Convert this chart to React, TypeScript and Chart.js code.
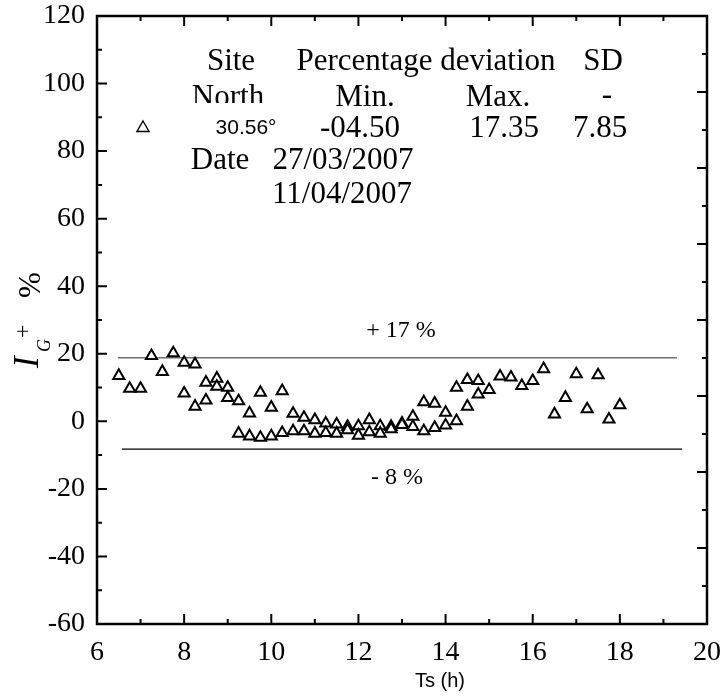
import React, { useEffect, useRef } from 'react';
import { Chart, registerables } from 'chart.js';

Chart.register(...registerables);

// Solar time (h) and percentage deviation of I_G+ (%)
const tsHours = [
  6.5, 6.75, 7.0, 7.25, 7.5, 7.75,
  8.0, 8.0, 8.25, 8.25, 8.5, 8.5, 8.75, 8.75, 9.0, 9.0,
  9.25, 9.25, 9.5, 9.5, 9.75, 9.75, 10.0, 10.0, 10.25, 10.25,
  10.5, 10.5, 10.75, 10.75, 11.0, 11.0, 11.25, 11.25, 11.5, 11.5,
  11.75, 11.75, 12.0, 12.0, 12.25, 12.25, 12.5, 12.5, 12.75, 12.75,
  13.0, 13.0, 13.25, 13.25, 13.5, 13.5, 13.75, 13.75, 14.0, 14.0,
  14.25, 14.25, 14.5, 14.5, 14.75, 14.75,
  15.0, 15.25, 15.5, 15.75, 16.0, 16.25, 16.5, 16.75, 17.0, 17.25,
  17.5, 17.75, 18.0,
];
const deviation = [
  13.5, 9.7, 9.7, 19.4, 14.7, 20.2,
  17.4, 8.3, 16.9, 4.4, 11.5, 6.2, 12.7, 10.3, 10.0, 7.0,
  6.0, -3.6, 2.4, -4.4, 8.5, -4.8, 4.1, -4.4, 9.0, -3.4,
  2.3, -2.9, 1.1, -2.9, 0.4, -3.6, -0.6, -3.4, -0.9, -3.6,
  -1.6, -2.6, -1.4, -4.2, 0.4, -3.2, -1.4, -3.6, -1.6, -2.3,
  -0.6, -1.0, 1.4, -1.6, 5.7, -2.9, 5.3, -1.9, 2.6, -1.2,
  10.0, 0.1, 12.3, 4.4, 12.0, 8.0,
  9.3, 13.3, 13.0, 10.5, 12.0, 15.5, 2.1, 7.0, 14.0, 3.6,
  13.7, 0.6, 4.8,
];

// Reference deviation lines
const upperLineX = [6.48, 19.31];
const upperLineY = [18.8, 18.8];
const lowerLineX = [6.57, 19.43];
const lowerLineY = [-8.2, -8.2];

// Axis ranges / ticks
const xMin = 6;
const xMax = 20;
const xStep = 2;
const yMin = -60;
const yMax = 120;
const yStep = 20;

// Annotation text
const headerRow = ['Site', 'Percentage deviation', 'SD'];
const subHeaderRow = ['North', 'Min.', 'Max.', '-'];
const valueRow = ['30.56°', '-04.50', '17.35', '7.85'];
const dateLabel = 'Date';
const dateFrom = '27/03/2007';
const dateTo = '11/04/2007';
const upperLabel = '+ 17 %';
const lowerLabel = '- 8 %';
const xTitle = 'Ts (h)';

const SERIF = '"Liberation Serif", "Times New Roman", Times, serif';
const SANS = '"Liberation Sans", Arial, Helvetica, sans-serif';

function triangle(ctx: CanvasRenderingContext2D, x: number, y: number, r: number) {
  ctx.beginPath();
  for (let i = 0; i < 3; i++) {
    const a = (i * 2 * Math.PI) / 3;
    const px = x + Math.sin(a) * r;
    const py = y - Math.cos(a) * r;
    if (i === 0) ctx.moveTo(px, py);
    else ctx.lineTo(px, py);
  }
  ctx.closePath();
}

const decorPlugin = {
  id: 'decor',
  afterDraw(chart: any) {
    const ctx: CanvasRenderingContext2D = chart.ctx;
    const { left, right, top, bottom } = chart.chartArea;
    const xs = chart.scales.x;
    const ys = chart.scales.y;
    ctx.save();
    ctx.strokeStyle = '#000';
    ctx.fillStyle = '#000';

    // frame
    ctx.lineWidth = 2.5;
    ctx.strokeRect(left, top, right - left, bottom - top);

    // ticks
    ctx.lineWidth = 2;
    ctx.beginPath();
    for (let v = yMin; v <= yMax; v += 10) {
      const y = ys.getPixelForValue(v);
      const len = v % 20 === 0 ? 10 : 5;
      ctx.moveTo(left, y);
      ctx.lineTo(left + len, y);
    }
    for (let h = xMin; h <= xMax; h += 1) {
      const x = xs.getPixelForValue(h);
      const len = h % 2 === 0 ? 10 : 5;
      ctx.moveTo(x, bottom);
      ctx.lineTo(x, bottom - len);
      ctx.moveTo(x, top);
      ctx.lineTo(x, top + len);
    }
    const nRight = 16;
    for (let k = 0; k <= nRight; k++) {
      const y = top + ((bottom - top) * k) / nRight;
      const len = k % 2 === 0 ? 10 : 5;
      ctx.moveTo(right, y);
      ctx.lineTo(right - len, y);
    }
    ctx.stroke();

    // annotation table
    ctx.textAlign = 'center';
    ctx.textBaseline = 'middle';
    ctx.font = `31px ${SERIF}`;
    ctx.fillText(headerRow[0], 231, 62);
    ctx.fillText(headerRow[1], 426, 62);
    ctx.fillText(headerRow[2], 603, 62);

    ctx.save();
    ctx.beginPath();
    ctx.rect(0, 0, 722, 103);
    ctx.clip();
    ctx.fillText(subHeaderRow[0], 228, 98);
    ctx.restore();
    ctx.fillText(subHeaderRow[1], 365, 98);
    ctx.fillText(subHeaderRow[2], 498, 98);
    ctx.fillText(subHeaderRow[3], 607, 96);

    ctx.font = `21px ${SANS}`;
    ctx.fillText(valueRow[0], 246, 128);
    ctx.font = `31px ${SERIF}`;
    ctx.fillText(valueRow[1], 360, 129);
    ctx.fillText(valueRow[2], 504, 129);
    ctx.fillText(valueRow[3], 600, 129);

    ctx.fillText(dateLabel, 220, 161);
    ctx.fillText(dateFrom, 343, 161);
    ctx.fillText(dateTo, 342, 195);

    // legend marker
    ctx.lineWidth = 1.4;
    triangle(ctx, 143, 128, 7);
    ctx.stroke();

    // line labels
    ctx.font = `24px ${SERIF}`;
    ctx.fillText(upperLabel, 401, 331);
    ctx.fillText(lowerLabel, 397, 478);

    // x title
    ctx.font = `20px ${SANS}`;
    ctx.fillText(xTitle, 440, 681);

    // y title: I_G^+ %
    ctx.translate(38, 368);
    ctx.rotate(-Math.PI / 2);
    ctx.textAlign = 'left';
    ctx.textBaseline = 'alphabetic';
    ctx.font = `italic 35px ${SERIF}`;
    ctx.fillText('I', 0, 0);
    ctx.font = `italic 18px ${SERIF}`;
    ctx.fillText('G', 16, 12);
    ctx.font = `24px ${SERIF}`;
    ctx.fillText('+', 30, -8);
    ctx.font = `31px ${SERIF}`;
    ctx.fillText('%', 70, 2);

    ctx.restore();
  },
};

export default function App() {
  const canvasRef = useRef<HTMLCanvasElement | null>(null);

  useEffect(() => {
    const canvas = canvasRef.current;
    if (!canvas) return;
    const chart = new Chart(canvas, {
      type: 'scatter',
      data: {
        datasets: [
          {
            label: 'North 30.56°',
            data: tsHours.map((x, i) => ({ x, y: deviation[i] })),
            pointStyle: 'triangle',
            pointRadius: 6.4,
            pointBorderWidth: 2,
            borderColor: '#000',
            backgroundColor: '#fff',
            order: 0,
          },
          {
            type: 'line',
            label: '+17 %',
            data: upperLineX.map((x, i) => ({ x, y: upperLineY[i] })),
            borderColor: '#6e6e6e',
            borderWidth: 1.5,
            pointRadius: 0,
            showLine: true,
            order: 1,
          },
          {
            type: 'line',
            label: '-8 %',
            data: lowerLineX.map((x, i) => ({ x, y: lowerLineY[i] })),
            borderColor: '#000',
            borderWidth: 1.2,
            pointRadius: 0,
            showLine: true,
            order: 1,
          },
        ],
      } as any,
      options: {
        animation: false,
        responsive: false,
        maintainAspectRatio: false,
        devicePixelRatio: 1,
        layout: { padding: { top: 16, right: 15, left: 0, bottom: 0 } },
        plugins: {
          legend: { display: false },
          tooltip: { enabled: false },
          title: { display: false },
        },
        scales: {
          x: {
            type: 'linear',
            min: xMin,
            max: xMax,
            grid: { display: false, drawTicks: false },
            border: { display: false },
            ticks: {
              stepSize: xStep,
              padding: 12,
              color: '#000',
              font: { family: SERIF, size: 28 },
              maxRotation: 0,
            },
            afterFit: (s: any) => {
              s.height = 72;
              s.paddingLeft = 0;
              s.paddingRight = 0;
            },
          },
          y: {
            type: 'linear',
            min: yMin,
            max: yMax,
            grid: { display: false, drawTicks: false },
            border: { display: false },
            ticks: {
              stepSize: yStep,
              padding: 12,
              color: '#000',
              font: { family: SERIF, size: 28 },
            },
            afterFit: (s: any) => {
              s.width = 97;
              s.paddingTop = 0;
              s.paddingBottom = 0;
            },
          },
        },
      },
      plugins: [decorPlugin],
    });
    return () => chart.destroy();
  }, []);

  return (
    <div style={{ position: 'fixed', left: 0, top: 0, width: 722, height: 696, background: '#fff' }}>
      <canvas ref={canvasRef} width={722} height={696} style={{ display: 'block', width: 722, height: 696 }} />
    </div>
  );
}
